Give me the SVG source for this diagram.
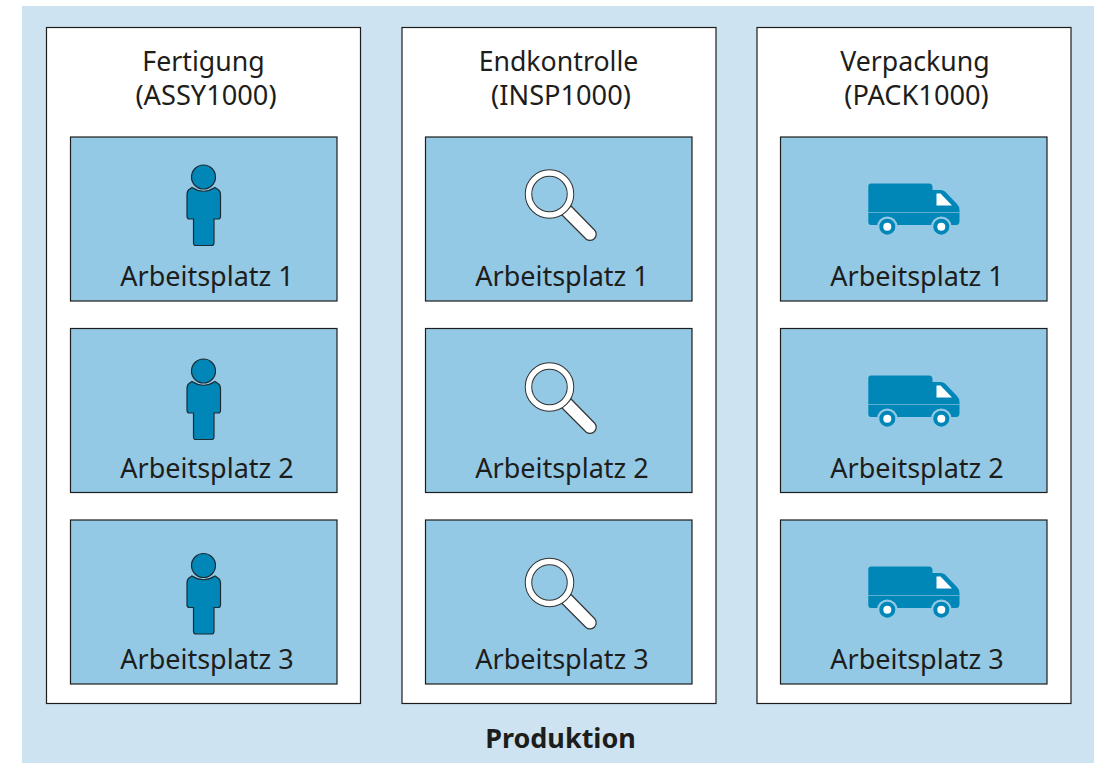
<svg xmlns="http://www.w3.org/2000/svg" width="1101" height="763" viewBox="0 0 1101 763">
<style>
.col{fill:#fff;stroke:#1d1d1b;stroke-width:1.2}
.ws{fill:#94c9e6;stroke:#1d1d1b;stroke-width:1.2}
text{font-family:"Noto Sans","Open Sans",sans-serif;fill:#1d1d1b;text-anchor:middle}
.t{font-size:26.7px}
.p{font-size:27.2px}
.l{font-size:27px}
.b{font-size:27px;font-weight:700}
.ic{fill:#0087b7;stroke:#1d2b33;stroke-width:1.2}
.mg{fill:#fff;stroke:#333;stroke-width:1.2}
</style>
<defs>
<g id="person">
<circle class="ic" cx="203.5" cy="177" r="12"/>
<path class="ic" d="M192 187.5Q203.5 195 215 187.5L218 189.5Q220.5 191 220.5 195V216.5Q220.5 219 218 219H214V243Q214 245.5 211.5 245.5H196Q193.5 245.5 193.5 243V219H189.5Q187 219 187 216.5V195Q187 191 189 189.5Z"/>
</g>
<g id="glass">
<path class="mg" d="M571 206L594.5 230A6.2 6.2 0 0 1 586 239L561 214Z"/>
<circle cx="549.5" cy="194" r="21" fill="none" stroke="#333" stroke-width="7.5"/>
<circle cx="549.5" cy="194" r="21" fill="none" stroke="#fff" stroke-width="5.5"/>
</g>
<g id="truck">
<path fill="#0087b7" d="M871 183.5H929Q932.5 183.5 932.5 187V190H941Q943 190 945 191.5L957 204Q959.5 206.5 959.5 210V221Q959.5 225 956 225H871Q868.3 225 868.3 222V186.5Q868.3 183.5 871 183.5Z"/>
<path fill="#fff" d="M936.5 193.5H940.5L952 205.5H936.5Z"/>
<path stroke="#5fb0d3" stroke-width="1.2" fill="none" d="M868.3 212.5H959.5"/>
<circle cx="887.3" cy="226.7" r="10.3" fill="#94c9e6"/>
<circle cx="941.3" cy="226.7" r="10.3" fill="#94c9e6"/>
<circle cx="887.3" cy="226.7" r="6" fill="#fff" stroke="#0087b7" stroke-width="4"/>
<circle cx="941.3" cy="226.7" r="6" fill="#fff" stroke="#0087b7" stroke-width="4"/>
</g>
</defs>
<rect id="background" x="22" y="6" width="1072" height="757" fill="#cde3f1"/>
<g id="col-fertigung">
<rect class="col" x="46.5" y="27.5" width="314" height="676"/>
<text class="t" x="203.5" y="71">Fertigung</text>
<text class="p" x="206" y="105">(ASSY1000)</text>
</g>
<g id="col-endkontrolle">
<rect class="col" x="402" y="27.5" width="314" height="676"/>
<text class="t" x="558.5" y="71">Endkontrolle</text>
<text class="p" x="561" y="105">(INSP1000)</text>
</g>
<g id="col-verpackung">
<rect class="col" x="757" y="27.5" width="314" height="676"/>
<text class="t" x="915" y="71">Verpackung</text>
<text class="p" x="916.5" y="105">(PACK1000)</text>
</g>
<g id="a1"><rect class="ws" x="70.5" y="137" width="266.5" height="164"/><use href="#person"/><text class="l" x="207" y="285.5">Arbeitsplatz 1</text></g>
<g id="a2"><rect class="ws" x="70.5" y="328.5" width="266.5" height="164"/><use href="#person" y="194"/><text class="l" x="207" y="477.5">Arbeitsplatz 2</text></g>
<g id="a3"><rect class="ws" x="70.5" y="520" width="266.5" height="164"/><use href="#person" y="388.5"/><text class="l" x="207" y="668.5">Arbeitsplatz 3</text></g>
<g id="e1"><rect class="ws" x="425.5" y="137" width="266.5" height="164"/><use href="#glass"/><text class="l" x="562" y="285.5">Arbeitsplatz 1</text></g>
<g id="e2"><rect class="ws" x="425.5" y="328.5" width="266.5" height="164"/><use href="#glass" y="193"/><text class="l" x="562" y="477.5">Arbeitsplatz 2</text></g>
<g id="e3"><rect class="ws" x="425.5" y="520" width="266.5" height="164"/><use href="#glass" y="388.5"/><text class="l" x="562" y="668.5">Arbeitsplatz 3</text></g>
<g id="v1"><rect class="ws" x="780.5" y="137" width="266.5" height="164"/><use href="#truck"/><text class="l" x="917" y="285.5">Arbeitsplatz 1</text></g>
<g id="v2"><rect class="ws" x="780.5" y="328.5" width="266.5" height="164"/><use href="#truck" y="192"/><text class="l" x="917" y="477.5">Arbeitsplatz 2</text></g>
<g id="v3"><rect class="ws" x="780.5" y="520" width="266.5" height="164"/><use href="#truck" y="383"/><text class="l" x="917" y="668.5">Arbeitsplatz 3</text></g>
<text id="title" class="b" x="560.5" y="747.5">Produktion</text>
</svg>
